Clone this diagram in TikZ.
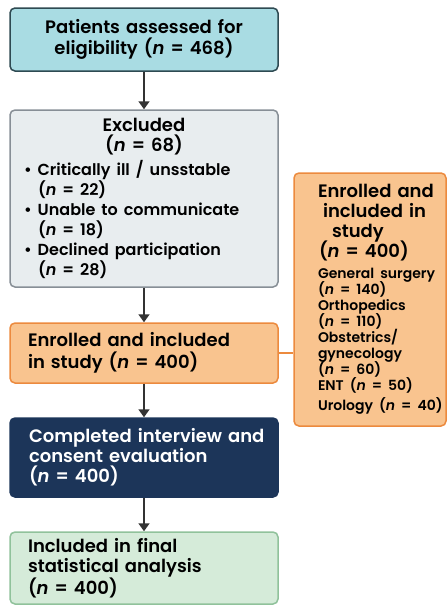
\documentclass[tikz,border=0pt]{standalone}
\usepackage{fontspec}
\setmainfont{Poppins}[BoldFont={Poppins SemiBold}, BoldItalicFont={Poppins SemiBold Italic}]
\usetikzlibrary{arrows.meta}
\definecolor{tealfill}{HTML}{A9DCE3}
\definecolor{tealline}{HTML}{2E4A52}
\definecolor{grayfill}{HTML}{E8EDEF}
\definecolor{grayline}{HTML}{878F96}
\definecolor{orangefill}{HTML}{F9C48F}
\definecolor{orangeline}{HTML}{EC8A3E}
\definecolor{navyfill}{HTML}{1C3559}
\definecolor{greenfill}{HTML}{D5EBD9}
\definecolor{greenline}{HTML}{90C29B}
\definecolor{arrowgray}{HTML}{333333}
\newcommand{\ind}[1]{\hspace*{#1pt}}
\begin{document}
\begin{tikzpicture}[x=1pt,y=-1pt,
    box/.style={draw, line width=1.5pt, rounded corners=5pt, inner sep=0pt, align=left},
    arr/.style={draw=arrowgray, line width=1.8pt, -{Triangle[length=8pt,width=11pt]}}]
    \useasboundingbox (0,0) rectangle (447,608);
    % 左の列
    \node (assess) at (144,39.5) [box, fill=tealfill, draw=tealline, minimum width=268pt, minimum height=63pt,
        text width=250pt, font=\bfseries\fontsize{18}{21}\selectfont]
        {\makebox[\linewidth]{Patients assessed for}\\\makebox[\linewidth]{eligibility (\textit{n} = 468)}};
    \node (excl) at (144,198.5) [box, fill=grayfill, draw=grayline, minimum width=268pt, minimum height=177pt,
        text width=240pt, font=\bfseries\fontsize{18}{20}\selectfont]
        {\lineskiplimit=-20pt
         \makebox[\linewidth]{Excluded}\\\makebox[\linewidth]{(\textit{n} = 68)}\par
         \fontsize{16}{20}\selectfont\vspace{4pt}
         \textbullet\hspace{6pt}Critically ill / unsstable\\\ind{14}(\textit{n} = 22)\\
         \textbullet\hspace{6pt}Unable to communicate\\\ind{14}(\textit{n} = 18)\\
         \textbullet\hspace{6pt}Declined participation\\\ind{14}(\textit{n} = 28)};
    \node (enroll) at (144,353) [box, fill=orangefill, draw=orangeline, minimum width=268pt, minimum height=60pt,
        text width=232pt, font=\bfseries\fontsize{18}{22}\selectfont]
        {Enrolled and included\\in study (\textit{n} = 400)};
    \node (interview) at (144,457.5) [box, fill=navyfill, draw=navyfill, text=white, minimum width=268pt,
        minimum height=79pt, text width=252pt, font=\bfseries\fontsize{18}{20}\selectfont]
        {\lineskiplimit=-20pt
         \ind{11}Completed interview and\\\ind{11}consent evaluation\\\ind{11}(\textit{n} = 400)};
    \node (final) at (144,568) [box, fill=greenfill, draw=greenline, minimum width=268pt, minimum height=72pt,
        text width=232pt, font=\bfseries\fontsize{18}{20}\selectfont]
        {\lineskiplimit=-20pt
         Included in final\\statistical analysis\\(\textit{n} = 400)};
    % 右の箱（診療科の内訳）
    \node (wards) at (370,299.5) [box, fill=orangefill, draw=orangeline, minimum width=152pt, minimum height=253pt,
        text width=150pt, font=\bfseries\fontsize{18}{20}\selectfont]
        {\lineskiplimit=-20pt
         \ind{23}Enrolled and\\\ind{28}included in\\\ind{37}study\\\ind{24}(\textit{n} = 400)\par
         \fontsize{14}{16}\selectfont\vspace{5pt}
         \ind{23}General surgery\\\ind{23}(\textit{n} = 140)\\\ind{23}Orthopedics\\\ind{23}(\textit{n} = 110)\\
         \ind{23}Obstetrics/\\\ind{23}gynecology\\\ind{23}(\textit{n} = 60)\\
         \ind{23}\mbox{ENT (\textit{n} = 50)}\\\ind{23}\mbox{Urology (\textit{n} = 40)}};
    \draw[arr] (assess) -- (excl);
    \draw[arr] (excl) -- (enroll);
    \draw[arr] (enroll) -- (interview);
    \draw[arr] (interview) -- (final);
    \draw[orangeline, line width=1.3pt] (enroll.east) -- (enroll.east -| wards.west);
\end{tikzpicture}
\end{document}
